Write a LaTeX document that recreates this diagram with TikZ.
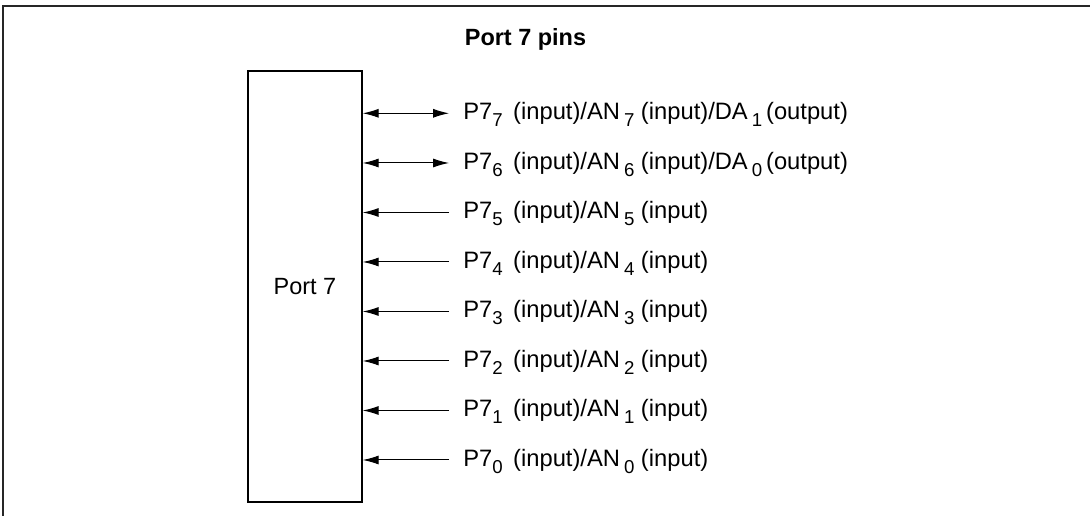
\documentclass[tikz,border=0pt]{standalone}
\usepackage{fontspec}
\setmainfont{Liberation Sans}
\usetikzlibrary{arrows.meta}
\newcommand\sbs[1]{\raisebox{-0.3em}{\fontsize{14pt}{16pt}\selectfont #1}}
\tikzset{
  frameline/.style={line width=1.2pt, draw=black!85},
  portbox/.style={draw, line width=1.1pt, minimum width=85.5pt, minimum height=323.25pt, inner sep=0pt, font=\fontsize{17.6pt}{20pt}\selectfont},
  pinlabel/.style={anchor=base west, inner sep=0pt, font=\fontsize{17.8pt}{20pt}\selectfont},
  titletext/.style={anchor=base, inner sep=0pt, font=\fontsize{17.6pt}{20pt}\selectfont\bfseries},
  pinarrow/.style={line width=0.75pt, -{Latex[length=12pt,width=6.8pt]}},
  pinboth/.style={line width=0.75pt, {Latex[length=12pt,width=6.8pt]}-{Latex[length=12pt,width=6.8pt]}},
}
\begin{document}
\begin{tikzpicture}[x=0.75pt,y=-0.75pt]
\useasboundingbox (0,0) rectangle (1090,516);
\draw[frameline] (3,540) -- (3,6) -- (1120,6);
\node[titletext] (title) at (525.5,46) {Port 7 pins};
\node[portbox] (port) at (305,286.5) {Port 7};
% arrow ends
\foreach \i/\y in {7/113.3,6/163,5/212.5,4/262,3/311.5,2/361,1/410.5,0/460}{
  \coordinate (e\i) at (449,\y);
}
\node[pinlabel] (l7) at (463,119.5) {P7\sbs{7}\, (input)/AN\,\sbs{7} (input)/DA\,\sbs{1}\,(output)};
\node[pinlabel] (l6) at (463,169.2) {P7\sbs{6}\, (input)/AN\,\sbs{6} (input)/DA\,\sbs{0}\,(output)};
\node[pinlabel] (l5) at (463,218.7) {P7\sbs{5}\, (input)/AN\,\sbs{5} (input)};
\node[pinlabel] (l4) at (463,268.2) {P7\sbs{4}\, (input)/AN\,\sbs{4} (input)};
\node[pinlabel] (l3) at (463,317.7) {P7\sbs{3}\, (input)/AN\,\sbs{3} (input)};
\node[pinlabel] (l2) at (463,367.2) {P7\sbs{2}\, (input)/AN\,\sbs{2} (input)};
\node[pinlabel] (l1) at (463,416.7) {P7\sbs{1}\, (input)/AN\,\sbs{1} (input)};
\node[pinlabel] (l0) at (463,466.2) {P7\sbs{0}\, (input)/AN\,\sbs{0} (input)};
\draw[pinboth] (port.east |- e7) -- (e7);
\draw[pinboth] (port.east |- e6) -- (e6);
\foreach \i in {5,4,3,2,1,0}{
  \draw[pinarrow] (e\i) -- (port.east |- e\i);
}
\end{tikzpicture}
\end{document}
